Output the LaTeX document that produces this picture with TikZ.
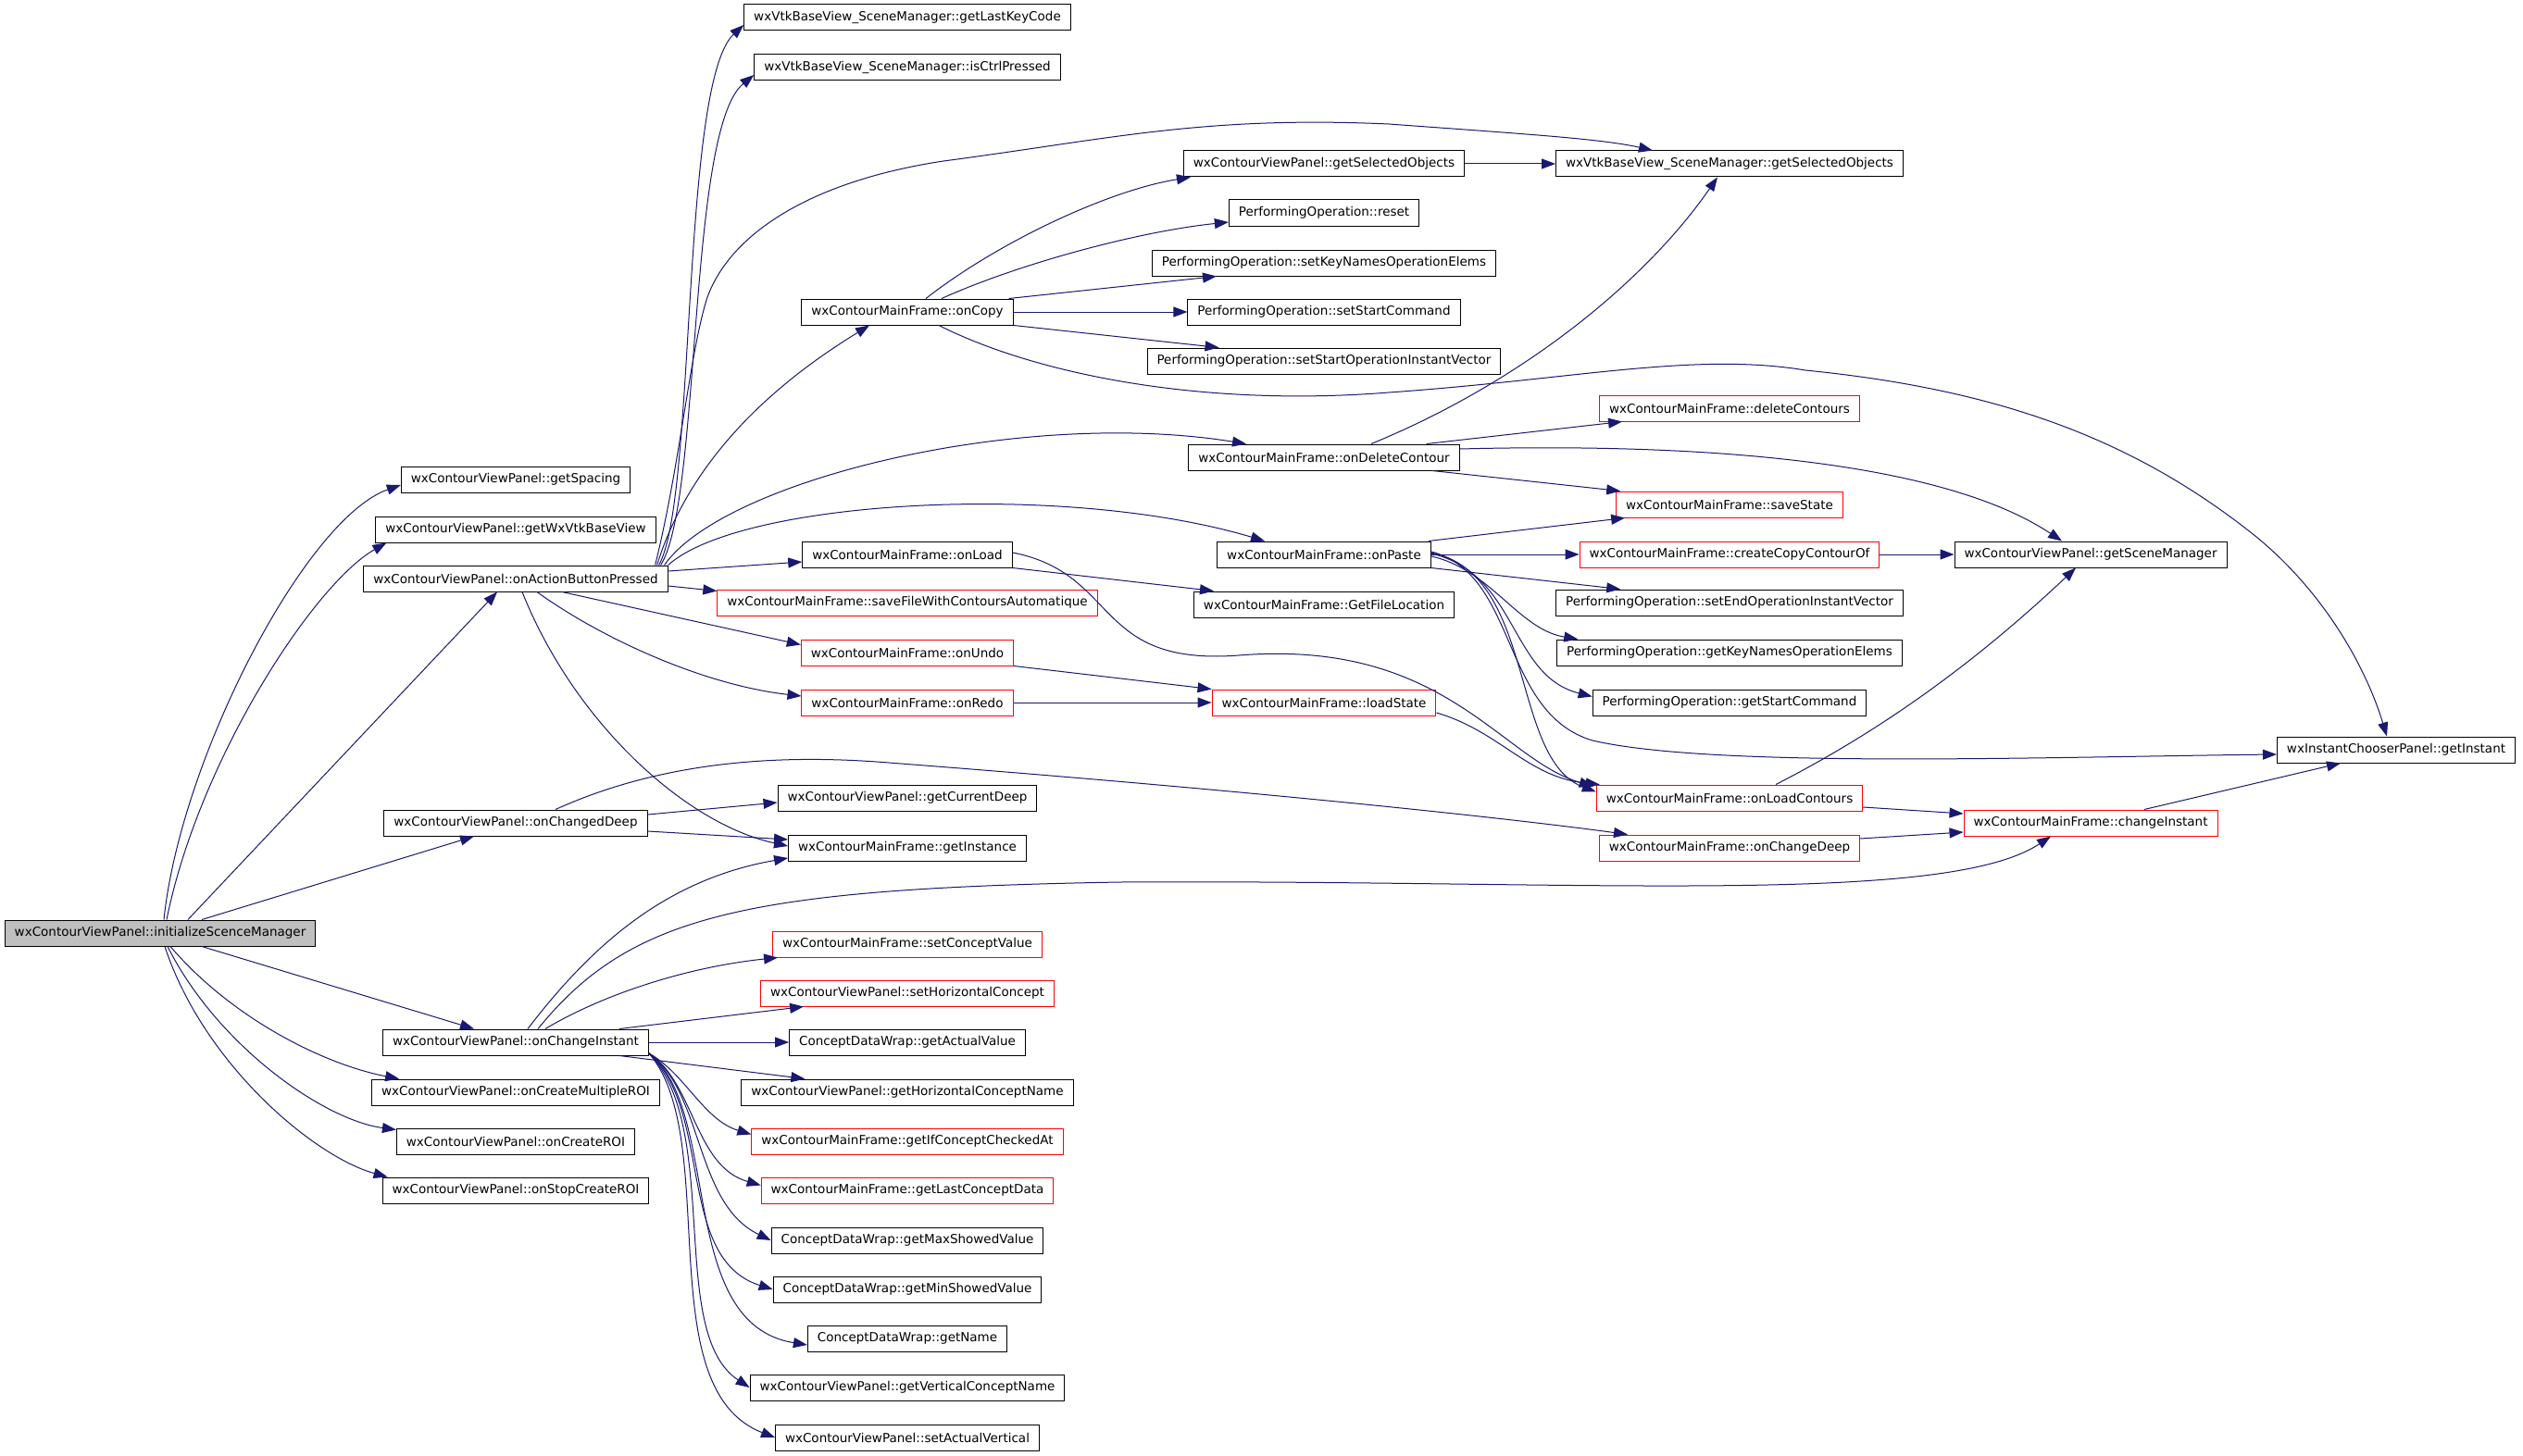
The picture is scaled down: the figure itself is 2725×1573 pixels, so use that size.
\documentclass[tikz,border=0pt]{standalone}
\usepackage{fontspec}
\setmainfont{DejaVu Sans}
\usetikzlibrary{arrows.meta}
\definecolor{edgeblue}{HTML}{191970}
\definecolor{rootgray}{HTML}{BFBFBF}
\begin{document}
\begin{tikzpicture}
		[	x=1pt,y=-1pt,
		fn/.style={rectangle,draw=black,line width=1pt,fill=white,minimum height=28pt,inner xsep=10.5pt,inner ysep=0pt,font=\fontsize{13.5}{16}\selectfont},
		redfn/.style={fn,draw=red},
		root/.style={fn,fill=rootgray},
		edge/.style={draw=edgeblue,line width=1pt,-{Triangle[length=15pt,width=11pt]}}
		]
\fill[white] (0,0) rectangle (2725,1573);

		\node[root] (initScene) at (173,1008){wxContourViewPanel::initializeScenceManager};

		\node[fn] (getSpacing) at (557,518){wxContourViewPanel::getSpacing};
		\node[fn] (getWxVtk) at (557,572){wxContourViewPanel::getWxVtkBaseView};
		\node[fn] (onAction) at (557,625){wxContourViewPanel::onActionButtonPressed};
		\node[fn] (onChangedDeep) at (557,889){wxContourViewPanel::onChangedDeep};
		\node[fn] (onChangeInstant) at (557,1126){wxContourViewPanel::onChangeInstant};
		\node[fn] (onCreateMultiple) at (557,1180){wxContourViewPanel::onCreateMultipleROI};
		\node[fn] (onCreateROI) at (557,1233){wxContourViewPanel::onCreateROI};
		\node[fn] (onStopCreate) at (557,1286){wxContourViewPanel::onStopCreateROI};

		\node[fn] (getLastKey) at (980,19){wxVtkBaseView\_SceneManager::getLastKeyCode};
		\node[fn] (isCtrl) at (980,73){wxVtkBaseView\_SceneManager::isCtrlPressed};
		\node[fn] (onCopy) at (980,337){wxContourMainFrame::onCopy};
		\node[fn] (onLoad) at (980,599){wxContourMainFrame::onLoad};
		\node[redfn] (saveFile) at (980,651){wxContourMainFrame::saveFileWithContoursAutomatique};
		\node[redfn] (onUndo) at (980,705){wxContourMainFrame::onUndo};
		\node[redfn] (onRedo) at (980,759){wxContourMainFrame::onRedo};
		\node[fn] (getCurrentDeep) at (980,862){wxContourViewPanel::getCurrentDeep};
		\node[fn] (getInstance) at (980,916){wxContourMainFrame::getInstance};
		\node[redfn] (setConceptValue) at (980,1020){wxContourMainFrame::setConceptValue};
		\node[redfn] (setHorizontal) at (980,1073){wxContourViewPanel::setHorizontalConcept};
		\node[fn] (getActualValue) at (980,1126){ConceptDataWrap::getActualValue};
		\node[fn] (getHorizontalName) at (980,1180){wxContourViewPanel::getHorizontalConceptName};
		\node[redfn] (getIfChecked) at (980,1233){wxContourMainFrame::getIfConceptCheckedAt};
		\node[redfn] (getLastConcept) at (980,1286){wxContourMainFrame::getLastConceptData};
		\node[fn] (getMaxShowed) at (980,1340){ConceptDataWrap::getMaxShowedValue};
		\node[fn] (getMinShowed) at (980,1393){ConceptDataWrap::getMinShowedValue};
		\node[fn] (getName) at (980,1446){ConceptDataWrap::getName};
		\node[fn] (getVerticalName) at (980,1499){wxContourViewPanel::getVerticalConceptName};
		\node[fn] (setActualVertical) at (980,1553){wxContourViewPanel::setActualVertical};

		\node[fn] (vpSelected) at (1430,177){wxContourViewPanel::getSelectedObjects};
		\node[fn] (opReset) at (1430,230){PerformingOperation::reset};
		\node[fn] (setKeyNames) at (1430,284){PerformingOperation::setKeyNamesOperationElems};
		\node[fn] (setStartCommand) at (1430,337){PerformingOperation::setStartCommand};
		\node[fn] (setStartVec) at (1430,390){PerformingOperation::setStartOperationInstantVector};
		\node[fn] (onDelete) at (1430,494){wxContourMainFrame::onDeleteContour};
		\node[fn] (onPaste) at (1430,599){wxContourMainFrame::onPaste};
		\node[fn] (getFileLoc) at (1430,653){wxContourMainFrame::GetFileLocation};
		\node[redfn] (loadState) at (1430,759){wxContourMainFrame::loadState};

		\node[fn] (vtkSelected) at (1868,177){wxVtkBaseView\_SceneManager::getSelectedObjects};
		\node[redfn] (deleteContours) at (1868,441){wxContourMainFrame::deleteContours};
		\node[redfn] (saveState) at (1868,545){wxContourMainFrame::saveState};
		\node[redfn] (createCopy) at (1868,599){wxContourMainFrame::createCopyContourOf};
		\node[fn] (setEndVec) at (1868,651){PerformingOperation::setEndOperationInstantVector};
		\node[fn] (getKeyNames) at (1868,705){PerformingOperation::getKeyNamesOperationElems};
		\node[fn] (getStartCommand) at (1868,759){PerformingOperation::getStartCommand};
		\node[redfn] (onLoadContours) at (1868,862){wxContourMainFrame::onLoadContours};
		\node[redfn] (onChangeDeep) at (1868,916){wxContourMainFrame::onChangeDeep};

		\node[fn] (getSceneManager) at (2258,599){wxContourViewPanel::getSceneManager};
		\node[redfn] (changeInstant) at (2258,889){wxContourMainFrame::changeInstant};
		\node[fn] (getInstant) at (2588,810){wxInstantChooserPanel::getInstant};

		\draw[edge] ([xshift=4pt]initScene.north) .. controls (195,820) and (330,560) .. ([yshift=-6pt]getSpacing.west);
		\draw[edge] ([xshift=7pt]initScene.north) .. controls (215,820) and (340,630) .. ([xshift=12pt]getWxVtk.south west);
		\draw[edge] ([xshift=30pt]initScene.north) -- ([xshift=-20pt]onAction.south);
		\draw[edge] ([xshift=45pt]initScene.north) -- ([xshift=-45pt]onChangedDeep.south);
		\draw[edge] ([xshift=45pt]initScene.south) -- ([xshift=-45pt]onChangeInstant.north);
		\draw[edge] ([xshift=11pt]initScene.south) .. controls (250,1100) and (350,1150) .. ([xshift=30pt]onCreateMultiple.north west);
		\draw[edge] ([xshift=8pt]initScene.south) .. controls (235,1130) and (350,1210) .. ([yshift=-2pt]onCreateROI.north west);
		\draw[edge] ([xshift=5pt]initScene.south) .. controls (220,1150) and (340,1250) .. ([xshift=6pt]onStopCreate.north west);

		\draw[edge] ([xshift=-10pt]onAction.north east) .. controls (752,540) and (735,90) .. ([yshift=-8pt]getLastKey.west);
		\draw[edge] ([xshift=-8pt]onAction.north east) .. controls (758,540) and (742,140) .. ([yshift=-8pt]isCtrl.west);
		\draw[edge] ([xshift=-14pt]onAction.north east) .. controls (735,500) and (745,380) .. (764,321) .. controls (790,250) and (880,195) .. (1019,174) .. controls (1200,150) and (1300,125) .. (1500,134) .. controls (1650,145) and (1730,150) .. ([xshift=-83pt]vtkSelected.north);
		\draw[edge] ([xshift=-12pt]onAction.north east) .. controls (750,480) and (860,400) .. ([xshift=-41pt]onCopy.south);
		\draw[edge] ([xshift=-4pt]onAction.north east) .. controls (780,520) and (1100,440) .. ([xshift=-84pt]onDelete.north);
		\draw[edge] (onAction.north east) .. controls (800,540) and (1150,520) .. ([xshift=-64pt]onPaste.north);
		\draw[edge] ([yshift=8pt]onAction.east) -- ([yshift=-8pt]onLoad.west);
		\draw[edge] ([yshift=-8pt]onAction.east) -- ([yshift=-2pt]saveFile.north west);
		\draw[edge] ([xshift=50pt]onAction.south) -- ([yshift=-6pt]onUndo.north west);
		\draw[edge] ([xshift=23pt]onAction.south) .. controls (650,690) and (760,740) .. ([yshift=7pt]onRedo.west);
		\draw[edge] ([xshift=7pt]onAction.south) .. controls (620,780) and (740,890) .. ([yshift=2pt]getInstance.west);

		\draw[edge] ([xshift=20pt]onCopy.north) .. controls (1080,260) and (1200,205) .. ([xshift=8pt]vpSelected.south west);
		\draw[edge] ([xshift=37pt]onCopy.north) .. controls (1100,285) and (1230,250) .. ([yshift=-10pt]opReset.west);
		\draw[edge] ([xshift=-5pt]onCopy.north east) -- ([xshift=70pt]setKeyNames.south west);
		\draw[edge] (onCopy.east) -- (setStartCommand.west);
		\draw[edge] (onCopy.south east) -- ([xshift=78pt]setStartVec.north west);
		\draw[edge] ([xshift=34pt]onCopy.south) .. controls (1120,405) and (1300,440) .. (1500,424) .. controls (1700,410) and (1830,380) .. (1950,400) .. controls (2150,420) and (2300,470) .. (2437,580) .. controls (2510,640) and (2555,720) .. ([xshift=-10pt]getInstant.north);
		\draw[edge] (vpSelected.east) -- (vtkSelected.west);

		\draw[edge] ([xshift=51pt]onDelete.north) .. controls (1650,410) and (1780,300) .. ([xshift=-13pt]vtkSelected.south);
		\draw[edge] ([xshift=-36pt]onDelete.north east) -- ([xshift=25pt]deleteContours.south west);
		\draw[edge] ([xshift=-30pt]onDelete.south east) -- ([xshift=5pt]saveState.north west);
		\draw[edge] ([yshift=9pt]onDelete.east) .. controls (1850,478) and (2100,500) .. ([xshift=-31pt]getSceneManager.north);

		\draw[edge] ([xshift=-3pt]onPaste.north east) -- ([xshift=10pt]saveState.south west);
		\draw[edge] (onPaste.east) -- (createCopy.west);
		\draw[edge] (onPaste.south east) -- ([xshift=70pt]setEndVec.north west);
		\draw[edge] ([yshift=-2pt]onPaste.east) .. controls (1610,615) and (1640,680) .. ([xshift=23pt]getKeyNames.north west);
		\draw[edge] ([yshift=1pt]onPaste.east) .. controls (1640,620) and (1630,730) .. ([yshift=-8pt]getStartCommand.north west);
		\draw[edge] ([yshift=2pt]onPaste.east) .. controls (1660,620) and (1630,820) .. ([yshift=-8pt]onLoadContours.north west);
		\draw[edge] ([yshift=3pt]onPaste.east) .. controls (1640,620) and (1620,770) .. (1720,800) .. controls (1850,830) and (2200,818) .. ([yshift=-5pt]getInstant.west);

		\draw[edge] (onLoad.south east) -- ([xshift=22pt]getFileLoc.north west);
		\draw[edge] ([yshift=2pt]onLoad.east) .. controls (1210,620) and (1180,720) .. (1338,708) .. controls (1560,690) and (1620,820) .. ([xshift=-3pt,yshift=-2pt]onLoadContours.north west);
		\draw[edge] (onUndo.south east) -- (loadState.north west);
		\draw[edge] (onRedo.east) -- (loadState.west);
		\draw[edge] ([yshift=-11pt]loadState.east) .. controls (1620,790) and (1650,840) .. ([xshift=4pt]onLoadContours.north west);

		\draw[edge] (createCopy.east) -- (getSceneManager.west);
		\draw[edge] ([xshift=50pt]onLoadContours.north) .. controls (2050,780) and (2150,700) .. ([xshift=-16pt]getSceneManager.south);
		\draw[edge] ([yshift=-10pt]onLoadContours.east) -- ([yshift=10pt]changeInstant.west);
		\draw[edge] ([yshift=10pt]onChangeDeep.east) -- ([yshift=-10pt]changeInstant.west);
		\draw[edge] ([xshift=58pt]changeInstant.north) -- ([xshift=-60pt]getInstant.south);

		\draw[edge] ([yshift=9pt]onChangedDeep.east) -- ([yshift=-5pt]getCurrentDeep.west);
		\draw[edge] ([yshift=-9pt]onChangedDeep.east) -- ([yshift=9pt]getInstance.west);
		\draw[edge] ([xshift=43pt]onChangedDeep.north) .. controls (720,820) and (850,815) .. (960,824) .. controls (1300,850) and (1600,880) .. ([xshift=-110pt]onChangeDeep.north);

		\draw[edge] ([xshift=13pt]onChangeInstant.north) .. controls (640,1020) and (720,950) .. ([yshift=-11pt]getInstance.west);
		\draw[edge] ([xshift=24pt]onChangeInstant.north) .. controls (680,990) and (800,960) .. (1210,953) .. controls (1700,950) and (2100,980) .. ([xshift=-43pt]changeInstant.south);
		\draw[edge] ([xshift=32pt]onChangeInstant.north) .. controls (650,1075) and (740,1045) .. ([xshift=6pt]setConceptValue.south west);
		\draw[edge] ([xshift=112pt]onChangeInstant.north) -- ([xshift=47pt]setHorizontal.south west);
		\draw[edge] (onChangeInstant.east) -- (getActualValue.west);
		\draw[edge] ([xshift=112pt]onChangeInstant.south) -- ([xshift=69pt]getHorizontalName.north west);
		\draw[edge] ([yshift=-12pt]onChangeInstant.east) .. controls (740,1160) and (760,1210) .. ([yshift=-7pt]getIfChecked.north west);
		\draw[edge] ([yshift=-12pt]onChangeInstant.east) .. controls (750,1170) and (750,1260) .. ([yshift=-9pt]getLastConcept.north west);
		\draw[edge] ([yshift=-12pt]onChangeInstant.east) .. controls (760,1180) and (750,1300) .. (getMaxShowed.west);
		\draw[edge] ([yshift=-12pt]onChangeInstant.east) .. controls (770,1200) and (730,1360) .. (getMinShowed.west);
		\draw[edge] ([yshift=-12pt]onChangeInstant.east) .. controls (780,1200) and (730,1430) .. ([yshift=-7pt]getName.west);
		\draw[edge] ([yshift=-12pt]onChangeInstant.east) .. controls (780,1220) and (720,1440) .. (getVerticalName.west);
		\draw[edge] ([yshift=-12pt]onChangeInstant.east) .. controls (780,1230) and (700,1500) .. (setActualVertical.west);
	\end{tikzpicture}
\end{document}
